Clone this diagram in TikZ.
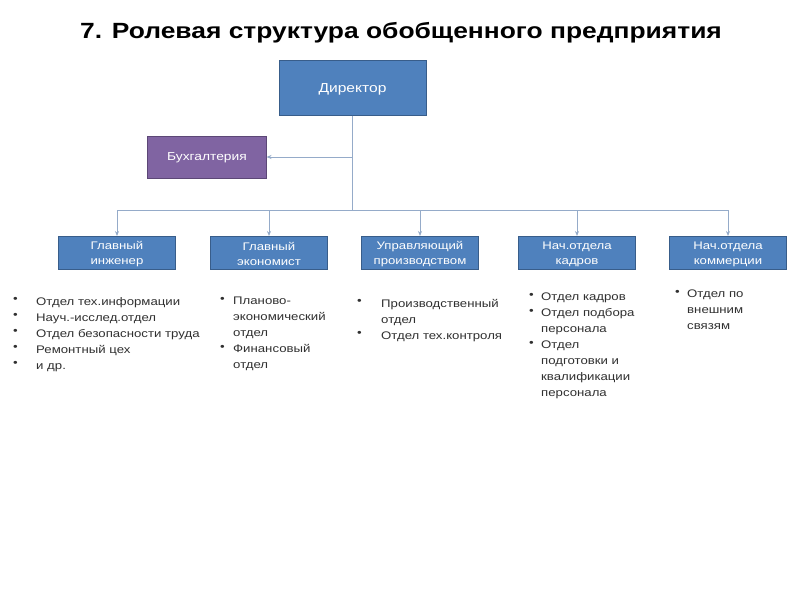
\documentclass[tikz,border=0pt]{standalone}
\usepackage{fontspec}
\setmainfont[FakeStretch=1.2]{Liberation Sans}
\usetikzlibrary{arrows.meta}
\definecolor{boxblue}{HTML}{4F81BD}
\definecolor{boxblueb}{HTML}{385D8A}
\definecolor{boxpurp}{HTML}{8064A2}
\definecolor{boxpurpb}{HTML}{5C4776}
\definecolor{linec}{HTML}{95ABC9}
\definecolor{txt}{HTML}{303030}
\tikzset{
  rolebox/.style={draw=boxblueb, line width=1pt, fill=boxblue, minimum width=117pt, minimum height=33pt, inner sep=0pt},
  boxtext/.style={text=white, inner sep=0pt, align=center, font=\fontsize{11}{15}\selectfont},
  conn/.style={draw=linec, line width=0.9pt},
  arr/.style={conn, -{Stealth[length=5pt,width=4pt]}},
  listtxt/.style={anchor=north west, inner sep=0pt, align=left, text=txt, font=\fontsize{11}{16}\selectfont},
}
\begin{document}
\begin{tikzpicture}[x=1pt,y=-1pt]
\useasboundingbox[fill=white] (0,0) rectangle (800,600);
\node[font=\bfseries\fontsize{22}{26}\selectfont, text=black] (title) at (401,33) {7. Ролевая структура обобщенного предприятия};
\node[rolebox, minimum width=147pt, minimum height=55pt] (dir) at (352.5,87.5) {};
\node[boxtext, font=\fontsize{13}{15}\selectfont] (dirt) at (352.5,89) {Директор};
\node[rolebox, draw=boxpurpb, fill=boxpurp, minimum width=119pt, minimum height=42pt] (buh) at (206.5,157) {};
\node[boxtext, font=\fontsize{11.5}{14}\selectfont] (buht) at (207,158) {Бухгалтерия};
\foreach \n/\x/\t in {b1/117/{Главный\\инженер}, b2/269/{Главный\\экономист}, b3/420/{Управляющий\\производством}, b4/577/{Нач.отдела\\кадров}, b5/728/{Нач.отдела\\коммерции}}{
  \node[rolebox] (\n) at (\x,253) {};
  \node[boxtext] (\n t) at (\x,254) {\t};
}
\coordinate (top) at (dir.south);
\coordinate (mid) at (352.5,157);
\coordinate (bus) at (352.5,210);
\draw[conn] (top) -- (bus);
\draw[arr] (mid) -- (buh.east);
\draw[conn] (b1.north |- bus) -- (b5.north |- bus);
\foreach \b in {b1,b2,b3,b4,b5}{
  \draw[arr] (\b.north |- bus) -- (\b.north);
}
% lists
\node[listtxt] (l1b) at (13,297) {•\\•\\•\\•\\•};
\node[listtxt] (l1) at (36,297) {Отдел тех.информации\\Науч.-исслед.отдел\\Отдел безопасности труда\\Ремонтный цех\\и др.};
\node[listtxt] (l2b) at (220,297) {•\\\strut\\\strut\\•};
\node[listtxt] (l2) at (233,297) {Планово-\\экономический\\отдел\\Финансовый\\отдел};
\node[listtxt] (l3b) at (357,299) {•\\\strut\\•};
\node[listtxt] (l3) at (381,299) {Производственный\\отдел\\Отдел тех.контроля};
\node[listtxt] (l4b) at (529,293) {•\\•\\\strut\\•};
\node[listtxt] (l4) at (541,293) {Отдел кадров\\Отдел подбора\\персонала\\Отдел\\подготовки и\\квалификации\\персонала};
\node[listtxt] (l5b) at (675,290) {•};
\node[listtxt] (l5) at (687,290) {Отдел по\\внешним\\связям};
\end{tikzpicture}
\end{document}
